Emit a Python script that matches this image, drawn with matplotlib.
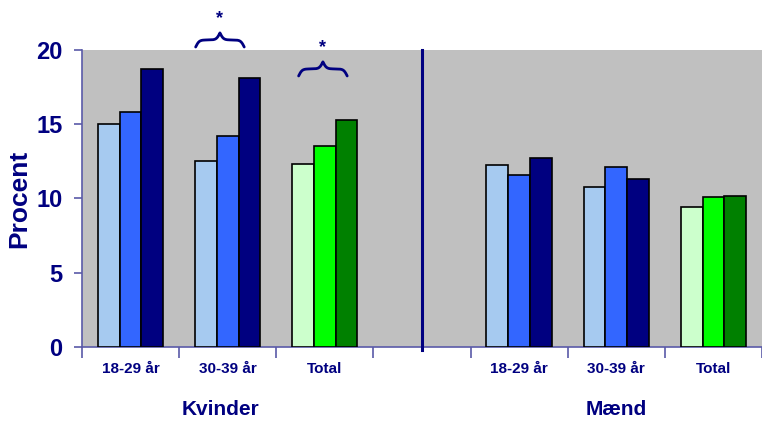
import matplotlib
matplotlib.use("Agg")
import matplotlib.pyplot as plt
import numpy as np

# data
groups = ["18-29 år", "30-39 år", "Total", "", "18-29 år", "30-39 år", "Total"]
series_a = [15.0, 12.5, 12.3, np.nan, 12.25, 10.75, 9.4]
series_b = [15.8, 14.2, 13.55, np.nan, 11.6, 12.15, 10.1]
series_c = [18.7, 18.1, 15.3, np.nan, 12.7, 11.3, 10.2]
blues = ["#A6CAF0", "#3366FF", "#000080"]
greens = ["#CCFFCC", "#00FF00", "#008000"]
sex_labels = ["Kvinder", "Mænd"]
sex_label_x = [0.93, 5.0]
yticks = [0, 5, 10, 15, 20]
brace_x = [0.92, 1.98]      # braces with * above 30-39 år and Total (women)
brace_base = [20.2, 18.25]

navy = "#000080"
axcol = "#5A5AA8"

plt.rcParams['font.family'] = ["Liberation Sans", "DejaVu Sans"]

fig = plt.figure(figsize=(7.62, 4.21), dpi=100)
ax = fig.add_axes([0.1076, 0.1758, 0.8924, 0.7055])
ax.set_facecolor("#C0C0C0")

x = np.arange(len(groups))
w = 0.224
for i, vals in enumerate([series_a, series_b, series_c]):
    cols = [greens[i] if g == "Total" else blues[i] for g in groups]
    ax.bar(x + (i - 1) * w, vals, width=w, color=cols, edgecolor="black",
           linewidth=1.2, zorder=3)

ax.set_xlim(-0.5, 6.41)
ax.set_ylim(0, 20)

# divider between women and men
ax.plot([3, 3], [-0.2, 20], color=navy, lw=2.2, clip_on=False, zorder=4)

for s in ["top", "right"]:
    ax.spines[s].set_visible(False)
for s in ["left", "bottom"]:
    ax.spines[s].set_color(axcol)
    ax.spines[s].set_linewidth(1.2)

ax.set_yticks(yticks)
ax.set_yticklabels([str(t) for t in yticks], fontsize=17, fontweight="bold",
                   color=navy)
ax.tick_params(axis="y", direction="out", length=6, color=axcol, width=1.2, pad=8)

# category boundaries as ticks, labels at centers
ax.set_xticks(np.arange(-0.5, 7, 1))
ax.set_xticklabels([])
ax.tick_params(axis="x", direction="out", length=8, color=axcol, width=1.2)
for xi, g in zip(x, groups):
    if g:
        ax.text(xi, -1.45, g, ha="center", va="center", fontsize=11,
                fontweight="bold", color=navy)

for lab, lx in zip(sex_labels, sex_label_x):
    ax.text(lx, -4.2, lab, ha="center", va="center", fontsize=15,
            fontweight="bold", color=navy)

ax.set_ylabel("Procent", fontsize=19, fontweight="bold", color=navy)
ax.yaxis.set_label_coords(-0.074, 0.5)


def brace(ax, xc, half, y0, h):
    t = np.linspace(0, 0.5, 101)
    beta = 28.0
    yh = 1 / (1 + np.exp(-beta * t)) + 1 / (1 + np.exp(-beta * (t - 0.5)))
    yy = np.concatenate([yh, yh[-2::-1]]) - 0.5
    yy = (yy - yy.min()) / (yy.max() - yy.min())
    xx = np.linspace(xc - half, xc + half, len(yy))
    ax.plot(xx, y0 + yy * h, color=navy, lw=2.0, clip_on=False, zorder=5,
            solid_capstyle="round")


for bx, yb in zip(brace_x, brace_base):
    brace(ax, bx, 0.25, yb, 0.95)
    ax.text(bx, yb + 1.9, "*", ha="center", va="center", fontsize=13,
            fontweight="bold", color=navy, clip_on=False)

fig.savefig("out.png", dpi=100)
